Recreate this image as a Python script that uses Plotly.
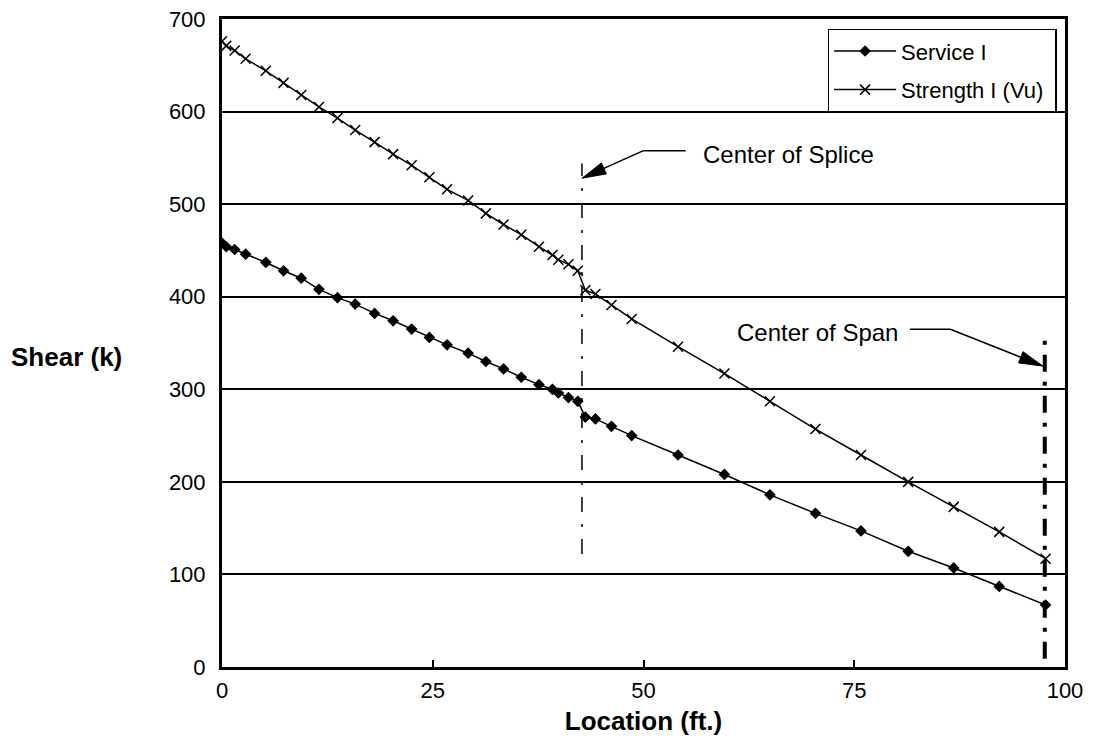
import math
import plotly.graph_objects as go

# location along girder (ft.)
location = [0, 0.5, 1.5, 2.8, 5.2, 7.3, 9.4, 11.5, 13.7, 15.8, 18.1, 20.3, 22.5,
            24.6, 26.7, 29.2, 31.3, 33.4, 35.5, 37.6, 39.2, 39.9, 41.1, 42.2,
            43.1, 44.3, 46.2, 48.6, 54.1, 59.6, 65.0, 70.4, 75.8, 81.4, 86.8,
            92.2, 97.7]
service_1 = [458, 454, 451, 446, 437, 428, 420, 408, 399, 392, 382, 374, 365,
             356, 348, 339, 330, 322, 313, 305, 300, 296, 291, 287, 270, 268,
             260, 250, 229, 208, 186, 166, 147, 125, 107, 87, 67]
strength_1 = [676, 671, 666, 657, 644, 631, 618, 605, 593, 580, 567, 554, 542,
              529, 516, 504, 490, 478, 467, 454, 445, 440, 435, 428, 407, 403,
              391, 376, 346, 317, 287, 257, 229, 200, 173, 146, 117]
x_ticks = [0, 25, 50, 75, 100]
y_ticks = [0, 100, 200, 300, 400, 500, 600, 700]

splice_x = 42.7
span_x = 97.6

FONT = "Arial, Liberation Sans, sans-serif"
KX = 843 / 100   # px per ft
KY = 647 / 700   # px per kip


def callout(fig, elbow_x, end_x, y, tip_x, tip_y, head_len=24, head_half=6):
    # horizontal leader, slanted arrow and a long narrow filled head
    fig.add_shape(type="line", x0=elbow_x, x1=end_x, y0=y, y1=y,
                  line=dict(color="black", width=1.5))
    dx = (tip_x - elbow_x) * KX
    dy = (tip_y - y) * KY
    n = math.hypot(dx, dy)
    ux, uy = dx / n, dy / n
    bx = tip_x - ux * head_len / KX
    by = tip_y - uy * head_len / KY
    p1 = (bx - uy * head_half / KX, by + ux * head_half / KY)
    p2 = (bx + uy * head_half / KX, by - ux * head_half / KY)
    fig.add_shape(type="line", x0=elbow_x, y0=y, x1=bx, y1=by,
                  line=dict(color="black", width=1.5))
    fig.add_shape(type="path",
                  path=f"M {tip_x},{tip_y} L {p1[0]},{p1[1]} L {p2[0]},{p2[1]} Z",
                  fillcolor="black", line=dict(color="black", width=1))


fig = go.Figure()
fig.add_trace(go.Scatter(
    x=location, y=service_1, name="Service I", mode="lines+markers",
    legendgroup="a",
    line=dict(color="black", width=1.5),
    marker=dict(symbol="diamond", size=9, color="black"),
))
fig.add_trace(go.Scatter(
    x=location, y=strength_1, name="Strength I (Vu)\u00a0", mode="lines+markers",
    legendgroup="b",
    line=dict(color="black", width=1.5),
    marker=dict(symbol="x-thin-open", size=10, color="black",
                line=dict(color="black", width=1.5)),
))

# reference lines
fig.add_shape(type="line", x0=splice_x, x1=splice_x, y0=122, y1=544,
              line=dict(color="black", width=1.5, dash="15px,12px,3px,12px"))
fig.add_shape(type="line", x0=span_x, x1=span_x, y0=9, y1=357,
              line=dict(color="black", width=4, dash="17px,10px,4px,10px"))

# callouts
callout(fig, 50.0, 55.0, 557.8, splice_x, 528)
fig.add_annotation(x=56.8, y=554, text="Center of Splice", showarrow=False,
                   xanchor="left", font=dict(size=24, color="black", family=FONT))

callout(fig, 86.4, 81.6, 364.8, 97.4, 325)
fig.add_annotation(x=60.9, y=361, text="Center of Span", showarrow=False,
                   xanchor="left", font=dict(size=24, color="black", family=FONT))

fig.add_annotation(xref="paper", yref="paper", x=-0.253, y=0.478,
                   xanchor="left", text="<b>Shear (k)</b>", showarrow=False,
                   font=dict(size=26, color="black", family=FONT))

fig.update_layout(
    width=1090, height=748,
    margin=dict(l=214, r=33, t=11, b=89, autoexpand=False),
    paper_bgcolor="white", plot_bgcolor="white",
    font=dict(family=FONT, size=22, color="black"),
    showlegend=True,
    legend=dict(x=0.99, y=0.985, xanchor="right", yanchor="top",
                bgcolor="white", bordercolor="black", borderwidth=1.5,
                font=dict(size=22), itemwidth=62, tracegroupgap=7),
    xaxis=dict(range=[0, 100], tickvals=x_ticks, showgrid=False,
               showline=True, linecolor="black", linewidth=3, mirror=True,
               ticks="inside", ticklen=7, tickcolor="black", tickwidth=1.5,
               zeroline=False, automargin=False, ticklabelstandoff=2,
               ticklabeloverflow="allow",
               title=dict(text="<b>Location (ft.)</b>", standoff=10,
                          font=dict(size=26))),
    yaxis=dict(range=[0, 700], tickvals=y_ticks, showgrid=True,
               gridcolor="black", gridwidth=1.5,
               showline=True, linecolor="black", linewidth=3, mirror=True,
               ticks="", zeroline=False, ticklabelstandoff=9, automargin=False,
               ticklabeloverflow="allow"),
)

fig.write_html("out.html")
